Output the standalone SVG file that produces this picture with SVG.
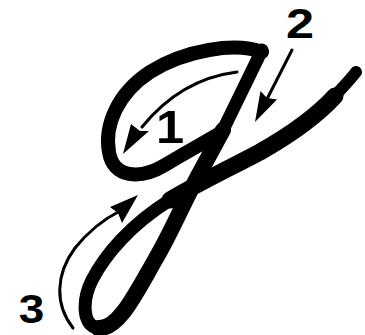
<svg xmlns="http://www.w3.org/2000/svg" width="365" height="335" viewBox="0 0 365 335">
<style>
.ink{fill:none;stroke:#000;stroke-linecap:round;stroke-linejoin:round}
.arr{fill:none;stroke:#000;stroke-width:3;stroke-linecap:round}
.head{fill:#000}
.num{font-family:"Liberation Sans",Arial,sans-serif;font-weight:bold;fill:#000;text-anchor:middle}
</style>
<rect width="365" height="335" fill="#fff"/>
<g id="letter-g">
<path class="ink" stroke-width="14" d="M262,52 C235,42 185,50 150,72 C118,93 104,125 109,152 C113,178 140,180 165,165 C185,153 205,142 222,132"/>
<path class="ink" stroke-width="13" d="M262,50 L223,130"/>
<path class="ink" stroke-width="16" d="M223,130 L198,176 C180,210 170,235 155,260 C135,295 118,330 98,328"/>
<path class="ink" stroke-width="13" d="M98,328 C82,326 82,300 92,280 C105,255 130,225 170,200"/>
<path class="ink" stroke-width="17" d="M170,200 C200,182 230,168 260,152 C290,135 315,118 335,96"/>
<path class="ink" stroke-width="12" d="M333,98 C342,88 350,80 356,72"/>
</g>
<g id="connectors">
<path class="arr" d="M237,72 C205,76 172,90 142,127"/>
<polygon class="head" points="123,154 131,124 140,131 149,131"/>
<path class="arr" d="M292,50 L266,101"/>
<polygon class="head" points="255,122 260.5,91 267,98 277,99.5"/>
<path class="arr" d="M73,328 C55,305 55,275 75,248 C88,232 102,220 120,211"/>
<polygon class="head" points="138,195 110,207 118,213 122,223"/>
</g>
<g id="label-1"><text class="num" font-size="46" transform="translate(170,143) scale(1.1,1)">1</text></g>
<g id="label-2"><text class="num" font-size="42" transform="translate(300,38) scale(1.2,1)">2</text></g>
<g id="label-3"><text class="num" font-size="40" transform="translate(31.5,323) scale(1.15,1)">3</text></g>
</svg>
